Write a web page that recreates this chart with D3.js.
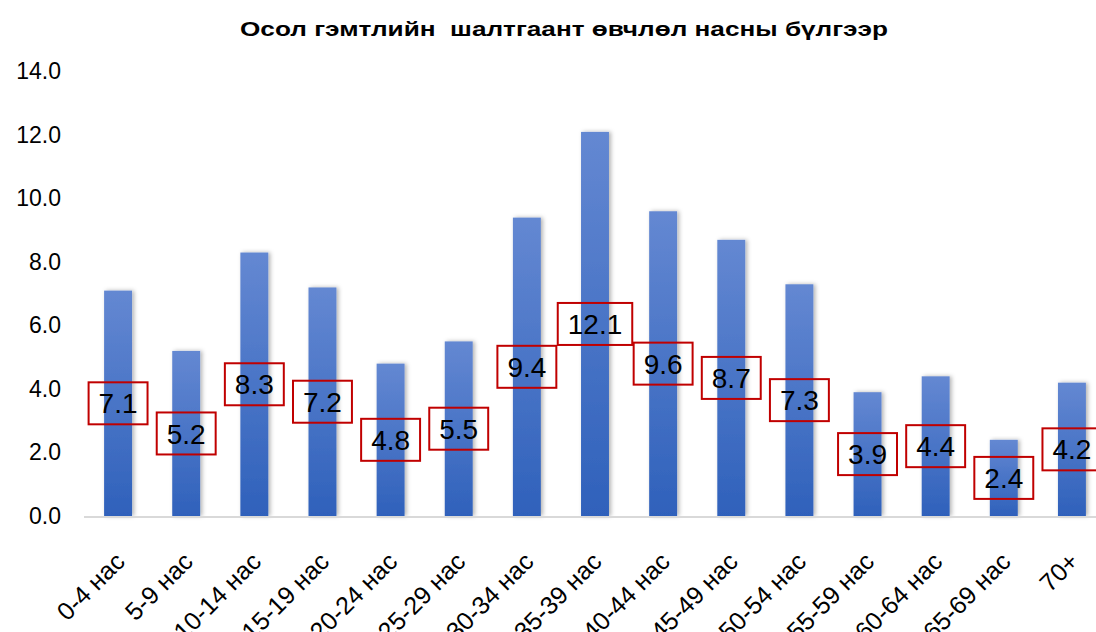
<!DOCTYPE html>
<html>
<head>
<meta charset="utf-8">
<script src="https://cdn.jsdelivr.net/npm/d3@7"></script>
<style>
    body { margin: 0; background: #fff; }
    svg { display: block; font-family: 'Liberation Sans', Arial, sans-serif; }
</style>
</head>
<body>
<div id="chart"></div>
<script>
// Chart data
var ageGroups = ['0-4 нас', '5-9 нас', '10-14 нас', '15-19 нас', '20-24 нас', '25-29 нас',
    '30-34 нас', '35-39 нас', '40-44 нас', '45-49 нас', '50-54 нас', '55-59 нас',
    '60-64 нас', '65-69 нас', '70+'];
var rates = [7.1, 5.2, 8.3, 7.2, 4.8, 5.5, 9.4, 12.1, 9.6, 8.7, 7.3, 3.9, 4.4, 2.4, 4.2];
var yTicks = [0, 2, 4, 6, 8, 10, 12, 14];
var chartTitle = 'Осол гэмтлийн  шалтгаант өвчлөл насны бүлгээр';

var svgWidth = 1096;
var svgHeight = 632;

var svg = d3.select('#chart')
    .append('svg')
    .attr('width', svgWidth)
    .attr('height', svgHeight);

// Gradient + shadow for bars
var defs = svg.append('defs');
var grad = defs.append('linearGradient')
    .attr('id', 'barGrad')
    .attr('x1', 0).attr('y1', 0).attr('x2', 0).attr('y2', 1);
grad.append('stop').attr('offset', '0%').attr('stop-color', '#6488d2');
grad.append('stop').attr('offset', '100%').attr('stop-color', '#2f61bb');

var shadow = defs.append('filter')
    .attr('id', 'barShadow')
    .attr('x', '-30%').attr('y', '-5%').attr('width', '160%').attr('height', '110%');
shadow.append('feDropShadow')
    .attr('dx', 2).attr('dy', 0)
    .attr('stdDeviation', 2)
    .attr('flood-color', '#000')
    .attr('flood-opacity', 0.3);

// Scales
var xScale = d3.scaleBand()
    .domain(ageGroups)
    .range([84, 1106])
    .paddingInner(0.59)
    .paddingOuter(0.295);

var yScale = d3.scaleLinear()
    .domain([0, 14])
    .range([516, 71.6]);

// Title
svg.append('text')
    .attr('x', 564)
    .attr('y', 36)
    .attr('text-anchor', 'middle')
    .attr('font-size', 21)
    .attr('font-weight', 'bold')
    .attr('textLength', 648)
    .attr('lengthAdjust', 'spacingAndGlyphs')
    .style('white-space', 'pre')
    .text(chartTitle);

// Y axis (labels only)
var yAxis = d3.axisLeft(yScale)
    .tickValues(yTicks)
    .tickFormat(d3.format('.1f'))
    .tickSize(0)
    .tickPadding(0);

var yAxisGroup = svg.append('g')
    .attr('transform', 'translate(61, 0)')
    .call(yAxis);
yAxisGroup.select('.domain').remove();
yAxisGroup.selectAll('text')
    .attr('font-size', 23)
    .attr('font-family', "'Liberation Sans', Arial, sans-serif")
    .attr('fill', '#000');

// Bars
svg.append('g')
    .selectAll('rect')
    .data(rates)
    .enter()
    .append('rect')
    .attr('x', (d, i) => xScale(ageGroups[i]))
    .attr('y', d => yScale(d))
    .attr('width', xScale.bandwidth())
    .attr('height', d => yScale(0) - yScale(d))
    .attr('fill', 'url(#barGrad)')
    .attr('filter', 'url(#barShadow)');

// X axis line
svg.append('line')
    .attr('x1', 84)
    .attr('x2', svgWidth)
    .attr('y1', yScale(0) + 1)
    .attr('y2', yScale(0) + 1)
    .attr('stroke', '#d9d9d9')
    .attr('stroke-width', 2);

// X labels, rotated (long ones run off the bottom edge, as in the original)
var xAxis = d3.axisBottom(xScale).tickSize(0).tickPadding(0);
var xAxisGroup = svg.append('g')
    .attr('transform', `translate(0, ${yScale(0)})`)
    .call(xAxis);
xAxisGroup.select('.domain').remove();
xAxisGroup.selectAll('text')
    .attr('font-size', 25)
    .attr('font-family', "'Liberation Sans', Arial, sans-serif")
    .attr('fill', '#000')
    .attr('text-anchor', 'end')
    .attr('y', 0)
    .attr('dy', '0.35em')
    .attr('transform', 'translate(2, 41) rotate(-45)')
    .style('white-space', 'pre');

// Data labels in red boxes, centred on bar mid-height
var labels = svg.append('g')
    .selectAll('g')
    .data(rates)
    .enter()
    .append('g')
    .attr('transform', (d, i) => `translate(${xScale(ageGroups[i]) + xScale.bandwidth() / 2}, ${yScale(d / 2)})`);

labels.append('text')
    .attr('text-anchor', 'middle')
    .attr('dy', '0.36em')
    .attr('font-size', 28)
    .attr('fill', '#000')
    .text(d => d.toFixed(1));

labels.each(function () {
    var g = d3.select(this);
    var bb = g.select('text').node().getBBox();
    var padX = 10;
    g.insert('rect', 'text')
        .attr('x', -bb.width / 2 - padX)
        .attr('y', -21)
        .attr('width', bb.width + 2 * padX)
        .attr('height', 42)
        .attr('fill', 'none')
        .attr('stroke', '#c00000')
        .attr('stroke-width', 2);
});
</script>
</body>
</html>
